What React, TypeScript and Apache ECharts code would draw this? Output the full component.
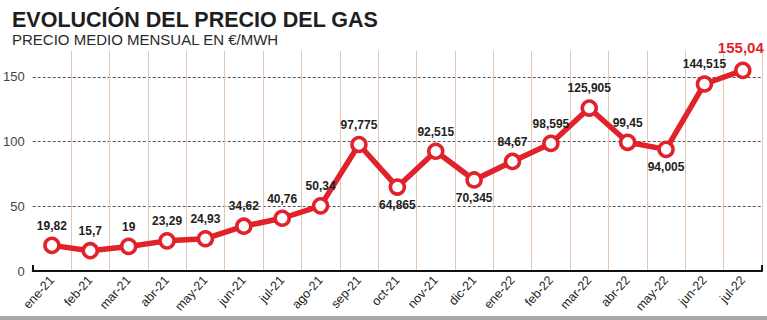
import React, { useEffect, useRef } from "react";
import * as echarts from "echarts";

const categories = [
  "ene-21", "feb-21", "mar-21", "abr-21", "may-21", "jun-21", "jul-21", "ago-21",
  "sep-21", "oct-21", "nov-21", "dic-21", "ene-22", "feb-22", "mar-22", "abr-22",
  "may-22", "jun-22", "jul-22",
];
const values = [
  19.82, 15.7, 19, 23.29, 24.93, 34.62, 40.76, 50.34, 97.775, 64.865, 92.515,
  70.345, 84.67, 98.595, 125.905, 99.45, 94.005, 144.515, 155.04,
];
const labelsBelow = ["oct-21", "dic-21", "may-22"];
const highlighted = ["jul-22"];

const title = "EVOLUCIÓN DEL PRECIO DEL GAS";
const subtitle = "PRECIO MEDIO MENSUAL EN €/MWH";

const RED = "#e1222b";
const FONT = "'Liberation Sans', Arial, Helvetica, sans-serif";

export default function App() {
  const ref = useRef<HTMLDivElement>(null);
  useEffect(() => {
    document.body.style.margin = "0";
    const chart = echarts.init(ref.current!, null, { renderer: "svg" });
    const fmt = (v: number) => String(v).replace(".", ",");
    const data = values.map((v, i) => {
      const cat = categories[i];
      const item: any = { value: v };
      if (labelsBelow.includes(cat)) {
        item.label = { position: "bottom", distance: 3 };
      }
      if (highlighted.includes(cat)) {
        item.label = { color: RED, fontSize: 15, distance: 7, offset: [-2, 0] };
      }
      return item;
    });
    chart.setOption({
      animation: false,
      backgroundColor: "#ffffff",
      title: {
        text: title,
        subtext: subtitle,
        left: 7,
        top: 4,
        itemGap: 1,
        textStyle: {
          fontFamily: FONT,
          fontWeight: "bold",
          fontSize: 21.5,
          color: "#1e1e1e",
        },
        subtextStyle: {
          fontFamily: FONT,
          fontSize: 15,
          color: "#2a2a2a",
        },
      },
      grid: { left: 28, right: 5, top: 51, bottom: 49, containLabel: false },
      xAxis: {
        type: "category",
        data: categories,
        boundaryGap: true,
        axisLine: { show: true, lineStyle: { color: "#111", width: 2 } },
        axisTick: {
          show: true,
          inside: true,
          length: 6,
          interval: (index: number) => index === 0,
          lineStyle: { color: "#111", width: 2 },
        },
        axisLabel: {
          rotate: 48,
          interval: 0,
          margin: 7,
          fontFamily: FONT,
          fontSize: 12.5,
          color: "#222",
        },
        splitLine: {
          show: true,
          showMinLine: false,
          lineStyle: { color: "#e5c6b0", width: 1 },
        },
      },
      yAxis: {
        type: "value",
        min: 0,
        max: 170,
        interval: 50,
        axisLine: { show: false },
        axisTick: { show: false },
        axisLabel: {
          showMaxLabel: false,
          margin: 8,
          fontFamily: FONT,
          fontSize: 13,
          color: "#444",
        },
        splitLine: {
          show: true,
          showMaxLine: false,
          showMinLine: false,
          lineStyle: { color: "#555", width: 1, type: [3, 2] },
        },
      },
      series: [
        {
          type: "line",
          data,
          symbol: "circle",
          symbolSize: 14,
          lineStyle: { color: RED, width: 5.5 },
          itemStyle: { color: "#fff", borderColor: RED, borderWidth: 3.5 },
          label: {
            show: true,
            position: "top",
            distance: 5,
            formatter: (p: any) => fmt(p.value),
            fontFamily: FONT,
            fontWeight: "bold",
            fontSize: 12,
            color: "#222",
          },
          z: 5,
        },
      ],
      graphic: [
        {
          type: "rect",
          left: 0,
          bottom: 0,
          shape: { width: 767, height: 4 },
          style: { fill: "#a8a8a8" },
        },
      ],
    });
    return () => chart.dispose();
  }, []);
  return <div ref={ref} style={{ width: 767, height: 320 }} />;
}
